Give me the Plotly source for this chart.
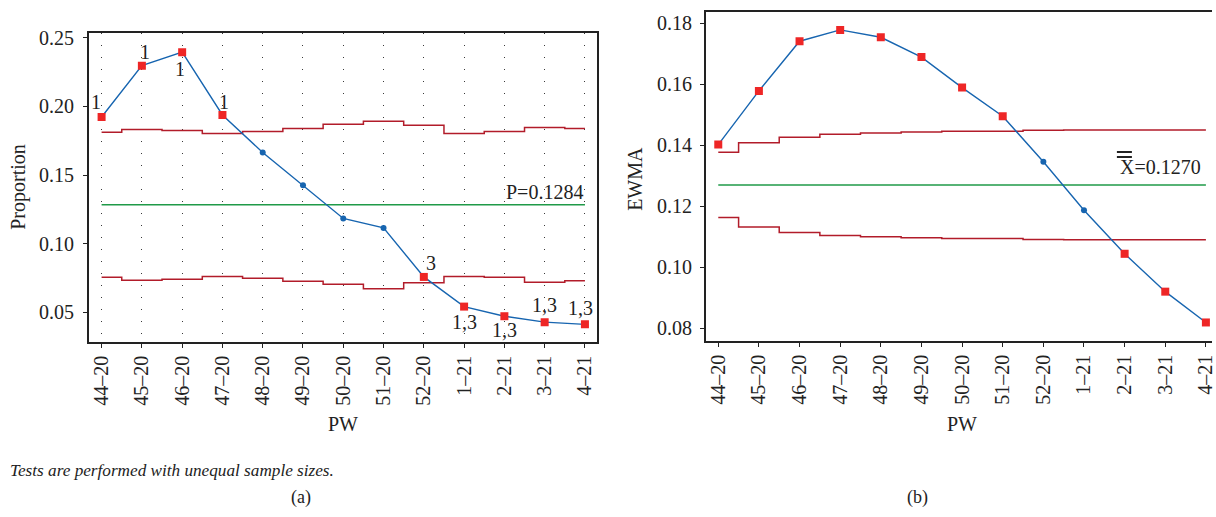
import plotly.graph_objects as go

# Production weeks (week–year)
weeks = ["44–20", "45–20", "46–20", "47–20", "48–20", "49–20", "50–20",
         "51–20", "52–20", "1–21", "2–21", "3–21", "4–21"]

# (a) P chart with unequal sample sizes
proportion = [0.1922, 0.2296, 0.2394, 0.1937, 0.1664, 0.1426, 0.1184,
              0.1115, 0.0758, 0.0542, 0.0472, 0.0429, 0.0413]
p_ucl = [0.1812, 0.1831, 0.1824, 0.1803, 0.1817, 0.1838, 0.1870,
         0.1891, 0.1862, 0.1803, 0.1817, 0.1846, 0.1838]
p_lcl = [0.0755, 0.0734, 0.0741, 0.0762, 0.0748, 0.0726, 0.0705,
         0.0672, 0.0715, 0.0762, 0.0755, 0.0719, 0.0731]
p_center = 0.1284
p_tests = ["1", "1", "1", "1", "", "", "", "", "3", "1,3", "1,3", "1,3", "1,3"]

# (b) EWMA chart
ewma = [0.1402, 0.1578, 0.1741, 0.1778, 0.1754, 0.1689, 0.1589,
        0.1495, 0.1346, 0.1187, 0.1044, 0.0920, 0.0819]
e_ucl = [0.1377, 0.1408, 0.1426, 0.1436, 0.1440, 0.1443, 0.1446,
         0.1446, 0.1449, 0.1450, 0.1450, 0.1450, 0.1450]
e_lcl = [0.1163, 0.1132, 0.1114, 0.1104, 0.1100, 0.1097, 0.1094,
         0.1094, 0.1091, 0.1090, 0.1090, 0.1090, 0.1090]
e_center = 0.1270
e_out = [True, True, True, True, True, True, True, True, False, False, True, True, True]

# pixel offsets of the test-number labels around each flagged point
label_shift = [(-6, 15), (3, 14), (-2, -17), (2, 13), None, None, None, None,
               (7, 14), (0, -15), (0, -14), (0, 17), (-4, 16)]

FONT = "Liberation Serif, Times New Roman, serif"
INK = "#222222"
BLUE = "#1765b0"
RED = "#ee2626"
LIMIT = "#b21c2a"
GREEN = "#1f9a48"

idx = list(range(len(weeks)))
W, H = 1216, 517

fig = go.Figure()

def add_chart(xa, ya, values, ucl, lcl, center, flagged):
    fig.add_trace(go.Scatter(x=idx, y=ucl, mode="lines", line=dict(color=LIMIT, width=1.5, shape="hvh"),
                             xaxis=xa, yaxis=ya, hoverinfo="skip"))
    fig.add_trace(go.Scatter(x=idx, y=lcl, mode="lines", line=dict(color=LIMIT, width=1.5, shape="hvh"),
                             xaxis=xa, yaxis=ya, hoverinfo="skip"))
    fig.add_trace(go.Scatter(x=[idx[0], idx[-1]], y=[center, center], mode="lines",
                             line=dict(color=GREEN, width=1.5), xaxis=xa, yaxis=ya, hoverinfo="skip"))
    fig.add_trace(go.Scatter(
        x=idx, y=values, mode="lines+markers", xaxis=xa, yaxis=ya,
        line=dict(color=BLUE, width=1.4),
        marker=dict(symbol=["square" if f else "circle" for f in flagged],
                    color=[RED if f else BLUE for f in flagged],
                    size=[8 if f else 6 for f in flagged], opacity=1, line=dict(width=0)),
    ))

add_chart("x", "y", proportion, p_ucl, p_lcl, p_center, [t != "" for t in p_tests])
add_chart("x2", "y2", ewma, e_ucl, e_lcl, e_center, e_out)

tick_font = dict(family=FONT, size=20, color=INK)
axis_common = dict(showline=True, linecolor=INK, linewidth=1.5, ticks="outside", ticklen=4,
                   tickcolor=INK, tickwidth=1.2, tickfont=tick_font, zeroline=False,
                   ticklabeloverflow="allow")

fig.update_layout(
    width=W, height=H, margin=dict(l=0, r=0, t=0, b=0),
    paper_bgcolor="white", plot_bgcolor="white", showlegend=False,
    font=dict(family=FONT, color=INK),
    xaxis=dict(domain=[89 / W, 599 / W], range=[-0.32, 12.30], tickvals=idx, ticktext=weeks,
               tickangle=-90, mirror=True, showgrid=True, gridcolor="#3a3a3a", gridwidth=1,
               griddash="1px,11px", **axis_common),
    yaxis=dict(domain=[(H - 340) / H, (H - 27) / H], range=[0.0284, 0.2536],
               tickvals=[0.05, 0.10, 0.15, 0.20, 0.25], tickformat=".2f", mirror=True,
               showgrid=False, ticklabelstandoff=5, **axis_common),
    xaxis2=dict(domain=[708 / W, 1.0], range=[-0.31, 12.15], tickvals=idx, ticktext=weeks,
                tickangle=-90, mirror=True, showgrid=False, anchor="y2", **axis_common),
    yaxis2=dict(domain=[(H - 339) / H, (H - 5.7) / H], range=[0.0758, 0.1838],
                tickvals=[0.08, 0.10, 0.12, 0.14, 0.16, 0.18], tickformat=".2f",
                showgrid=False, anchor="x2", ticklabelstandoff=4, **axis_common),
)

ann_font = dict(family=FONT, size=20, color=INK)

def note(x, y, text, size=20, **kw):
    d = dict(x=x, y=y, xref="paper", yref="paper", text=text, showarrow=False,
             xanchor="center", yanchor="middle", font=dict(family=FONT, size=size, color=INK))
    d.update(kw)
    return d

annotations = []
for i, (t, s) in enumerate(zip(p_tests, label_shift)):
    if t and s:
        annotations.append(dict(x=idx[i], y=proportion[i], xref="x", yref="y", text=t, showarrow=False,
                                xanchor="center", yanchor="middle",
                                font=ann_font, xshift=s[0], yshift=s[1]))

annotations += [
    dict(x=idx[-1], y=p_center, xref="x", yref="y", text=f"P={p_center:.4f}", showarrow=False,
         xanchor="right", yanchor="bottom", xshift=0, yshift=0, font=ann_font),
    dict(x=idx[-1], y=e_center, xref="x2", yref="y2", text=f"X={e_center:.4f}", showarrow=False,
         xanchor="right", yanchor="bottom", xshift=-3, yshift=5, font=ann_font),
    note(19 / W, (H - 183) / H, "Proportion", textangle=-90),
    note(637 / W, (H - 175) / H, "EWMA", textangle=-90),
    note(344 / W, (H - 423) / H, "PW"),
    note(965 / W, (H - 423) / H, "PW"),
    note(8 / W, (H - 470) / H, "<i>Tests are performed with unequal sample sizes.</i>", size=17.2,
         xanchor="left"),
    note(302 / W, (H - 497) / H, "(a)", size=18),
    note(921 / W, (H - 497) / H, "(b)", size=18),
]
fig.update_layout(annotations=annotations)

# double bar over the X of the grand-mean label, pinned to the centre line
for dy in (28, 33):
    fig.add_shape(type="line", xref="x2", yref="y2",
                  xsizemode="pixel", xanchor=idx[-1], x0=-89, x1=-74,
                  ysizemode="pixel", yanchor=e_center, y0=dy, y1=dy,
                  line=dict(color=INK, width=2))

fig.write_html("out.html")
